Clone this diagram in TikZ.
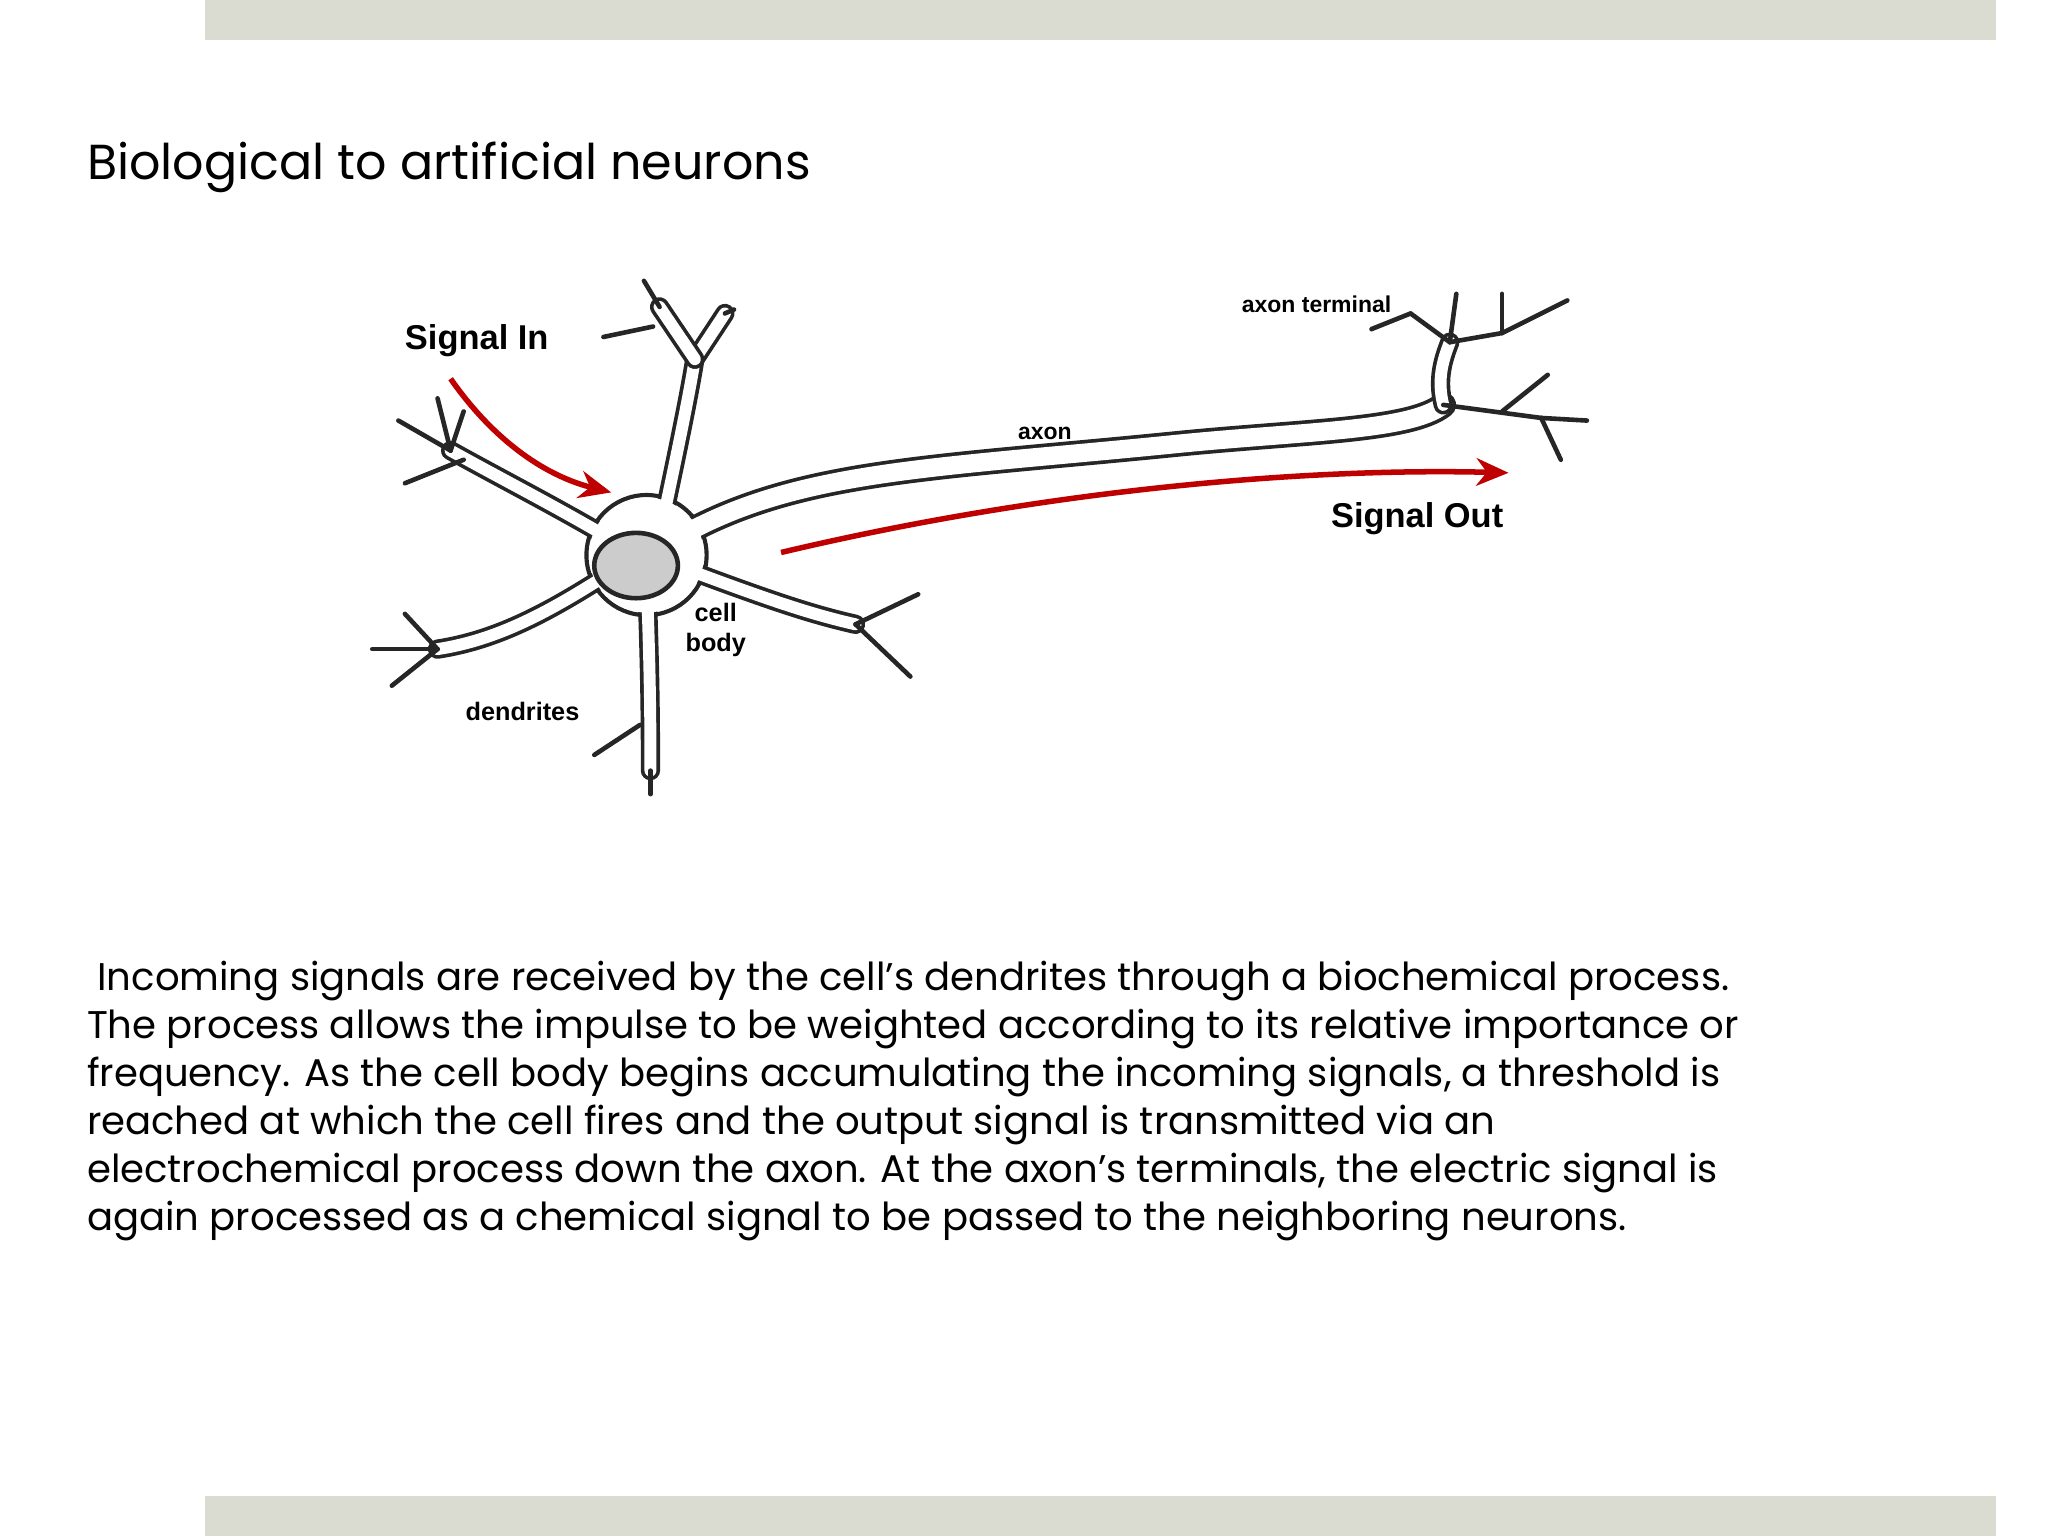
\documentclass[tikz,border=0pt]{standalone}
\usepackage{fontspec}
\usetikzlibrary{shapes.geometric,arrows.meta}
\setmainfont{Poppins}
\newfontfamily\lbl{Liberation Sans}
\definecolor{barc}{RGB}{218,220,210}
\begin{document}
\begin{tikzpicture}[x=0.01cm,y=-0.01cm,
  trunk/.style={draw=black!85,line width=0.8pt,double=white,double distance=2.6pt,line cap=round},
  twig/.style={draw=black!85,line width=1pt,line cap=round},
  sig/.style={draw=red!75!black,line width=1.2pt,-{Stealth[length=7pt,width=6pt]}},
  lab/.style={font=\lbl\bfseries\color{black!75}}]
\useasboundingbox (0,0) rectangle (1568,1176);
\fill[white] (0,0) rectangle (1568,1176);
\fill[barc] (157,0) rectangle (1528,31);
\fill[barc] (157,1145) rectangle (1528,1176);
\node[anchor=west,inner sep=0pt,font=\fontsize{10.7pt}{13pt}\selectfont] (title) at (66,128) {Biological to artificial neurons};
% soma outline
\draw[draw=black!85,line width=0.9pt] (495,425) circle (46);
% dendrites / trunks
\draw[trunk] (505,410) .. controls (520,340) and (528,300) .. (532,275);
\draw[trunk] (532,275) -- (555,240);
\draw[trunk] (532,275) -- (505,235);
\draw[twig] (505,235) -- (493,215);
\draw[twig] (555,240) -- (562,237);
\draw[twig] (500,250) -- (462,258);
\draw[trunk] (480,420) .. controls (430,390) and (390,370) .. (345,345);
\draw[twig] (345,345) -- (305,322);
\draw[twig] (345,345) -- (335,305);
\draw[twig] (355,352) -- (310,370);
\draw[twig] (345,345) -- (355,315);
\draw[trunk] (480,430) .. controls (420,470) and (380,490) .. (335,497);
\draw[twig] (335,497) -- (285,497);
\draw[twig] (335,497) -- (310,470);
\draw[twig] (335,497) -- (300,525);
\draw[trunk] (495,440) .. controls (498,520) and (498,560) .. (498,590);
\draw[twig] (498,590) -- (498,608);
\draw[twig] (490,555) -- (455,578);
\draw[trunk] (510,430) .. controls (590,460) and (620,470) .. (655,478);
\draw[twig] (655,478) -- (703,455);
\draw[twig] (655,478) -- (697,518);
% axon
\draw[trunk,double distance=4pt] (505,420) .. controls (600,360) and (700,360) .. (900,340) .. controls (1000,330) and (1080,330) .. (1105,310);
\draw[trunk] (1105,310) .. controls (1100,290) and (1105,275) .. (1110,262);
\draw[twig] (1110,262) -- (1080,240);
\draw[twig] (1080,240) -- (1050,252);
\draw[twig] (1110,262) -- (1150,255);
\draw[twig] (1150,255) -- (1200,230);
\draw[twig] (1150,255) -- (1150,225);
\draw[twig] (1110,262) -- (1115,225);
\draw[twig] (1105,310) -- (1180,320);
\draw[twig] (1180,320) -- (1215,322);
\draw[twig] (1180,320) -- (1195,352);
\draw[twig] (1150,315) -- (1185,287);
% cell body interior and nucleus
\fill[white] (495,425) circle (44);
\node[draw=black!85,line width=1pt,fill=black!20,ellipse,minimum width=0.64cm,minimum height=0.5cm,inner sep=0pt] (nuc) at (487,433) {};
% signals
\coordinate (si1) at (345,290); \coordinate (si2) at (468,377);
\draw[sig] (si1) .. controls (380,340) and (420,365) .. (si2);
\coordinate (so1) at (598,423); \coordinate (so2) at (1155,362);
\draw[sig] (so1) .. controls (800,375) and (1000,358) .. (so2);
% labels
\node[lab,font=\lbl\bfseries\fontsize{7.5pt}{9pt}\selectfont] (sin) at (365,261) {Signal In};
\node[lab,font=\lbl\bfseries\fontsize{5pt}{6pt}\selectfont] (at) at (1008,233) {axon terminal};
\node[lab,font=\lbl\bfseries\fontsize{5pt}{6pt}\selectfont] (ax) at (800,332) {axon};
\node[lab,font=\lbl\bfseries\fontsize{7.5pt}{9pt}\selectfont] (sout) at (1085,397) {Signal Out};
\node[lab,font=\lbl\bfseries\fontsize{5.5pt}{6.5pt}\selectfont,align=center] (cb) at (548,482) {cell\\body};
\node[lab,font=\lbl\bfseries\fontsize{5.5pt}{6.5pt}\selectfont] (den) at (400,545) {dendrites};
% body text
\node[anchor=north west,align=left,font=\fontsize{8.4pt}{10.45pt}\selectfont,inner sep=0pt] (txt) at (66,735) {\ Incoming signals are received by the cell{\char"27}s dendrites through a biochemical process.\\
The process allows the impulse to be weighted according to its relative importance or\\
frequency. As the cell body begins accumulating the incoming signals, a threshold is\\
reached at which the cell fires and the output signal is transmitted via an\\
electrochemical process down the axon. At the axon{\char"27}s terminals, the electric signal is\\
again processed as a chemical signal to be passed to the neighboring neurons.};
\end{tikzpicture}
\end{document}
